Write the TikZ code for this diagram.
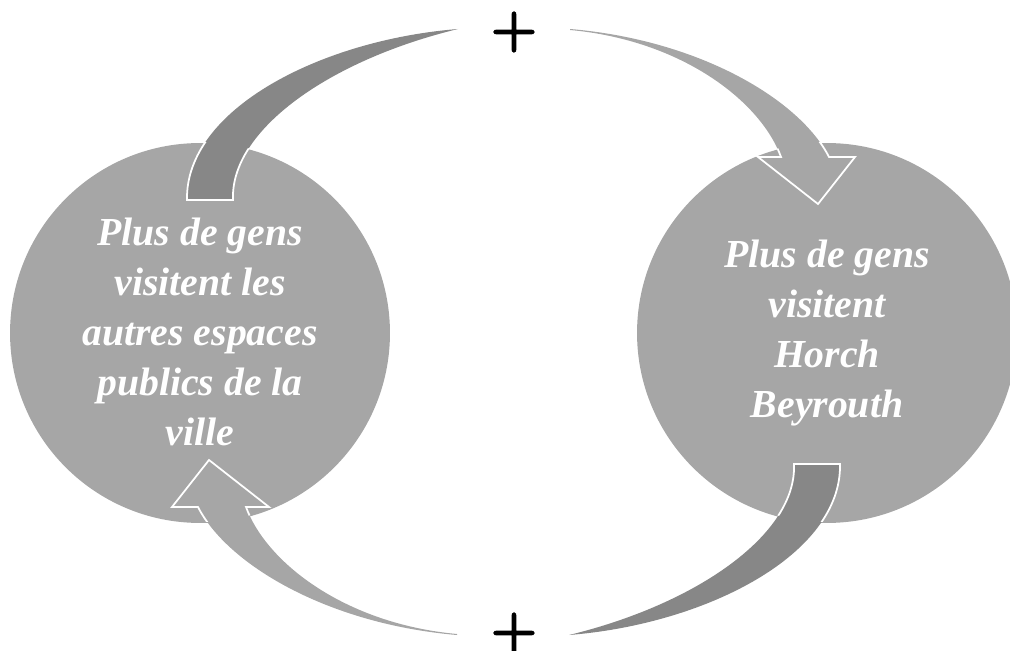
\documentclass[tikz,border=0pt]{standalone}
\usepackage{fontspec}
\newfontfamily\tnr{Liberation Serif}
\newfontfamily\plusfont[FakeBold=4]{Latin Modern Roman}
\definecolor{circgray}{HTML}{A6A6A6}
\definecolor{tailgray}{HTML}{878787}
\begin{document}
\begin{tikzpicture}[x=0.02cm, y=-0.02cm,
  bubble/.style={circle, fill=circgray, minimum size=7.6cm, inner sep=0pt},
  bubbletext/.style={align=center, text=white, font=\tnr\bfseries\itshape\fontsize{22.6}{28.4}\selectfont, inner sep=0pt, anchor=north},
  outline/.style={draw=white, line width=1pt},
  plussign/.style={font=\plusfont\fontsize{35}{35}\selectfont, inner sep=0pt}]
\useasboundingbox (0,0) rectangle (1010,651);
\clip (0,0) rectangle (1010,651);
\node[bubble] (L) at (200,333) {};
\node[bubble] (R) at (827,333) {};
\def\tailpath{(187,200) .. controls (185,110) and (320,40) .. (458,29)
      .. controls (330,60) and (230,130) .. (233,200) -- cycle}
\def\headpath{(570,29) .. controls (700,40) and (800,100) .. (829,157)
      -- (855,157) -- (818,204) -- (758,157) -- (781,157)
      .. controls (760,100) and (680,40) .. (570,30) -- cycle}
\foreach \ang in {0,180}{
  \begin{scope}[rotate around={\ang:(513.5,332)}]
    % dark tail leaving one circle, light arrow entering the other
    \fill[tailgray] \tailpath;
    \fill[circgray] \headpath;
    \begin{scope}
      \clip (200,333) circle (191) (827,333) circle (191);
      \path[fill=tailgray, outline] \tailpath;
      \path[fill=circgray, outline] \headpath;
    \end{scope}
  \end{scope}
}
\node[bubbletext] (Lt) at (200,218) {Plus de gens\\visitent les\\autres espaces\\publics de la\\ville};
\node[bubbletext] (Rt) at (827,240) {Plus de gens\\visitent\\Horch\\Beyrouth};
\node[plussign] (p1) at (514,32) {+};
\node[plussign] (p2) at (514,633) {+};
\end{tikzpicture}
\end{document}
